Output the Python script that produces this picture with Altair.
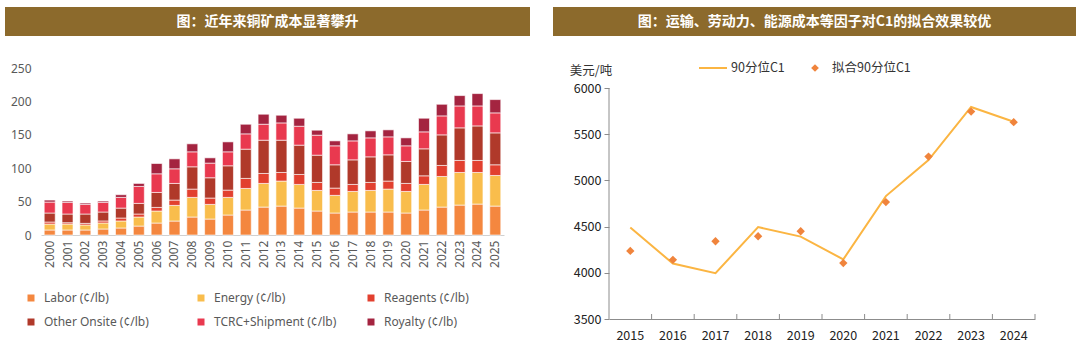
import altair as alt
import pandas as pd

# ---------------- Left panel data ----------------
left_title = "图：近年来铜矿成本显著攀升"
years_left = [str(y) for y in range(2000, 2026)]
series_names = ["Labor (¢/lb)", "Energy (¢/lb)", "Reagents (¢/lb)",
                "Other Onsite (¢/lb)", "TCRC+Shipment (¢/lb)", "Royalty (¢/lb)"]
labor = [7.5, 7.5, 7.5, 9.0, 10.5, 13.4, 17.9, 20.9, 26.9, 23.9, 29.9, 37.4, 41.8,
         43.3, 40.3, 35.9, 32.9, 34.4, 34.4, 34.4, 32.9, 37.4, 41.8, 44.8, 46.3, 43.3]
energy = [8.9, 8.9, 7.5, 9.0, 10.5, 13.5, 18.0, 23.4, 29.4, 21.9, 26.4, 32.3, 35.4,
          37.4, 35.4, 30.8, 26.4, 30.8, 32.3, 34.3, 32.3, 38.3, 45.8, 48.8, 47.3, 45.8]
reagents = [3.0, 2.0, 2.4, 3.0, 4.4, 4.5, 5.4, 8.0, 12.4, 9.5, 10.9, 15.0, 14.9,
            12.9, 14.9, 12.0, 10.9, 10.5, 12.0, 12.0, 12.0, 12.9, 16.5, 18.0, 18.0, 16.0]
other_onsite = [13.5, 13.0, 14.0, 13.4, 14.9, 15.9, 22.4, 24.9, 33.4, 30.4, 36.4, 43.8, 49.8,
                48.3, 43.9, 40.8, 34.9, 36.8, 38.3, 39.3, 32.9, 40.4, 45.8, 48.8, 51.7, 47.8]
tcrc = [16.4, 17.4, 14.4, 14.4, 16.0, 25.4, 27.9, 21.9, 22.4, 21.9, 20.9, 22.9, 23.9,
        25.9, 28.3, 29.9, 28.4, 28.4, 28.4, 26.9, 23.4, 25.4, 28.4, 32.8, 29.9, 29.9]
royalty = [3.0, 2.0, 2.0, 2.0, 4.0, 4.5, 15.4, 14.9, 12.0, 7.9, 14.9, 14.4, 15.0,
           11.5, 12.0, 7.5, 7.4, 10.5, 10.5, 10.5, 11.9, 20.4, 17.4, 15.5, 18.5, 19.9]
left_colors = ["#F4873F", "#F9BD4C", "#E2402F", "#B0392A", "#E9394F", "#A42440"]
left_ticks = [0, 50, 100, 150, 200, 250]

# ---------------- Right panel data ----------------
right_title = "图：运输、劳动力、能源成本等因子对C1的拟合效果较优"
unit_label = "美元/吨"
years_right = [str(y) for y in range(2015, 2025)]
line_name = "90分位C1"
fit_name = "拟合90分位C1"
c1_90 = [4490, 4100, 3995, 4495, 4392, 4145, 4830, 5220, 5795, 5635]
fit_90 = [4237, 4140, 4342, 4396, 4450, 4105, 4765, 5258, 5745, 5630]
right_ticks = [3500, 4000, 4500, 5000, 5500, 6000]

BROWN = "#8C6A2C"
LINE_C = "#FBB542"
DIAM_C = "#F0843C"
AXIS_C = "#8C8C8C"
CJK = "Noto Sans CJK SC"

# ---------------- Left panel ----------------
series_vals = [labor, energy, reagents, other_onsite, tcrc, royalty]
rows = []
for i, yr in enumerate(years_left):
    for k, name in enumerate(series_names):
        rows.append({"year": yr, "series": name, "value": series_vals[k][i], "ord": k})
df_left = pd.DataFrame(rows)

LW, LH = 463, 167

bars = alt.Chart(df_left).mark_bar(stroke="white", strokeWidth=0.6).encode(
    x=alt.X("year:O", sort=years_left,
            scale=alt.Scale(paddingInner=0.383, paddingOuter=0.18),
            axis=alt.Axis(title=None, labelAngle=-90, ticks=False, domainColor="#D0D0D0",
                          labelColor="#595959", labelFontSize=12, labelPadding=5,
                          labelFont="Noto Sans")),
    y=alt.Y("value:Q", stack="zero",
            scale=alt.Scale(domain=[0, 250], nice=False),
            axis=alt.Axis(title=None, values=left_ticks, domain=False, ticks=False, grid=False,
                          labelColor="#595959", labelFontSize=12, labelPadding=10,
                          labelFont="Noto Sans")),
    color=alt.Color("series:N", sort=series_names,
                    scale=alt.Scale(domain=series_names, range=left_colors),
                    legend=alt.Legend(title=None, orient="none", legendX=-16, legendY=224,
                                      direction="horizontal",
                                      columns=3, symbolType="square", symbolSize=49,
                                      symbolStrokeWidth=0, columnPadding=28, rowPadding=12,
                                      labelFontSize=12, labelColor="#595959", labelOffset=7,
                                      labelFont="Noto Sans", gridAlign="all", padding=0)),
    order=alt.Order("ord:Q", sort="ascending"),
)

df_lt = pd.DataFrame({"t": [left_title]})
l_rect = alt.Chart(df_lt).mark_rect(color=BROWN).encode(
    x=alt.value(-36), x2=alt.value(489), y=alt.value(-61), y2=alt.value(-32))
l_text = alt.Chart(df_lt).mark_text(color="white", fontSize=14, fontWeight="bold", font=CJK,
                                    align="center", baseline="middle").encode(
    x=alt.value(226.5), y=alt.value(-46), text="t:N")

left = alt.layer(bars, l_rect, l_text).properties(width=LW, height=LH)

# ---------------- Right panel ----------------
RW, RH = 426, 251
ymax = 3500 + RH * (2500 / 231)

df_line = pd.DataFrame({"year": years_right, "v": c1_90})
df_fit = pd.DataFrame({"year": years_right, "v": fit_90})

x_axis_r = alt.Axis(title=None, labelAngle=0, ticks=False, domainColor=AXIS_C,
                    labelColor="#222222", labelFontSize=12.5, labelPadding=10,
                    labelFont=CJK, bandPosition=0.5, labelAlign="center")
xr = alt.X("year:O", sort=years_right, scale=alt.Scale(paddingInner=0, paddingOuter=0),
           axis=x_axis_r)
yr_ = alt.Y("v:Q", scale=alt.Scale(domain=[3500, ymax], nice=False, zero=False),
            axis=alt.Axis(title=None, values=right_ticks, format="d", domain=False, ticks=True,
                          tickSize=5, tickColor=AXIS_C, grid=False, labelColor="#222222",
                          labelFontSize=12.5, labelPadding=3, labelFont=CJK))

line = alt.Chart(df_line).mark_line(color=LINE_C, strokeWidth=2).encode(x=xr, y=yr_)
pts = alt.Chart(df_fit).mark_point(shape="diamond", filled=True, size=70, color=DIAM_C,
                                   opacity=1).encode(x=xr, y=yr_)

yaxis_line = alt.Chart(df_line.head(1)).mark_rule(color=AXIS_C, strokeWidth=1).encode(
    x=alt.value(0), y=alt.datum(3500), y2=alt.datum(6000))
inner_ticks = alt.Chart(df_line).mark_rule(color=AXIS_C, strokeWidth=1).encode(
    x=alt.X("year:O", sort=years_right, bandPosition=1, axis=x_axis_r),
    y=alt.value(RH), y2=alt.value(RH - 5))

df_unit = pd.DataFrame({"t": [unit_label]})
unit = alt.Chart(df_unit).mark_text(fontSize=12.5, font=CJK, color="#333333",
                                    align="center", baseline="middle").encode(
    x=alt.value(-18), y=alt.value(3), text="t:N")

df_leg = pd.DataFrame({"a": [line_name], "b": [fit_name]})
leg_line = alt.Chart(df_leg).mark_rule(color=LINE_C, strokeWidth=2).encode(
    x=alt.value(90), x2=alt.value(118), y=alt.value(0))
leg_t1 = alt.Chart(df_leg).mark_text(fontSize=12.5, font=CJK, color="#333333", align="left",
                                     baseline="middle").encode(
    x=alt.value(122), y=alt.value(0), text="a:N")
leg_d = alt.Chart(df_leg).mark_point(shape="diamond", filled=True, size=60, color=DIAM_C,
                                     opacity=1).encode(x=alt.value(206), y=alt.value(0))
leg_t2 = alt.Chart(df_leg).mark_text(fontSize=12.5, font=CJK, color="#333333", align="left",
                                     baseline="middle").encode(
    x=alt.value(223), y=alt.value(0), text="b:N")

df_rt = pd.DataFrame({"t": [right_title]})
r_rect = alt.Chart(df_rt).mark_rect(color=BROWN).encode(
    x=alt.value(-56), x2=alt.value(467), y=alt.value(-61), y2=alt.value(-32))
r_text = alt.Chart(df_rt).mark_text(color="white", fontSize=14, fontWeight="bold", font=CJK,
                                    align="center", baseline="middle").encode(
    x=alt.value(205.5), y=alt.value(-46), text="t:N")

right = alt.layer(line, pts, yaxis_line, inner_ticks, unit, leg_line, leg_t1, leg_d, leg_t2,
                  r_rect, r_text).properties(width=RW, height=RH)

chart = alt.hconcat(left, right, spacing=23).properties(
    padding={"left": 5, "top": 7, "right": 4, "bottom": 0},
    background="white",
).configure_view(stroke=None).configure_axis(labelFont="Noto Sans")

chart.save("out.html", embed_options={"renderer": "svg", "actions": False})
